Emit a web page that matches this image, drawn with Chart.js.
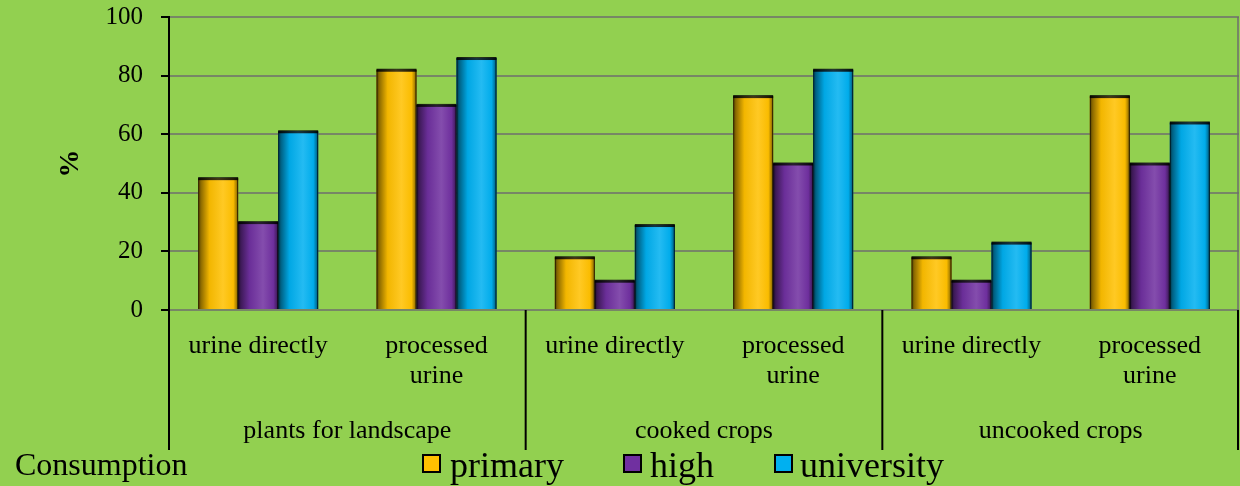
<!DOCTYPE html>
<html>
<head>
<meta charset="utf-8">
<script src="https://cdn.jsdelivr.net/npm/chart.js@4/dist/chart.umd.min.js"></script>
<style>
  html, body { margin: 0; padding: 0; background: #92D050; }
  #wrap { position: relative; width: 1240px; height: 486px; overflow: hidden;
          font-family: "Liberation Serif", "Times New Roman", serif; color: #000; }
  #wrap canvas { position: absolute; left: 0; top: 0; }
  .txt { position: absolute; white-space: nowrap; line-height: 1; }
  .swatch { position: absolute; width: 15px; height: 15px; border: 2px solid #000; }
</style>
</head>
<body>
<div id="wrap">
  <canvas id="chart" width="1240" height="486"></canvas>
  <div id="legend"></div>
</div>
<script>
// Categories (lower level) and their parent groups
const categories = [
  ['urine directly'], ['processed', 'urine'],
  ['urine directly'], ['processed', 'urine'],
  ['urine directly'], ['processed', 'urine']
];
const groups = ['plants for landscape', 'cooked crops', 'uncooked crops'];

// Education level series (percent)
const seriesNames = ['primary', 'high', 'university'];
const seriesColors = ['#FFC000', '#7030A0', '#00B0F0'];
const primary    = [45, 82, 18, 73, 18, 73];
const high       = [30, 70, 10, 50, 10, 50];
const university = [61, 86, 29, 82, 23, 64];

const legendTitle = 'Consumption';
const yAxisTitle = '%';
const yMin = 0, yMax = 100, yStep = 20;

const FONT = '"Liberation Serif", "Times New Roman", serif';
const GRID = 'rgba(110,110,110,0.75)';

function hexToRgb(h) {
  const n = parseInt(h.slice(1), 16);
  return [(n >> 16) & 255, (n >> 8) & 255, n & 255];
}
function mix(rgb, target, t) {
  const c = rgb.map(v => Math.round(v + (target - v) * t));
  return `rgb(${c[0]},${c[1]},${c[2]})`;
}

// Cylinder-like shading painted over each bar
const cylinderShade = {
  id: 'cylinderShade',
  afterDatasetsDraw(chart) {
    const ctx = chart.ctx;
    chart.data.datasets.forEach((ds, di) => {
      const meta = chart.getDatasetMeta(di);
      const rgb = hexToRgb(ds.backgroundColor);
      meta.data.forEach(bar => {
        const { x, y, base, width } = bar.getProps(['x', 'y', 'base', 'width'], true);
        const l = x - width / 2;
        const h = base - y;
        const g = ctx.createLinearGradient(l, 0, l + width, 0);
        g.addColorStop(0.00, mix(rgb, 0, 0.70));
        g.addColorStop(0.07, mix(rgb, 0, 0.45));
        g.addColorStop(0.28, mix(rgb, 0, 0.05));
        g.addColorStop(0.62, mix(rgb, 255, 0.14));
        g.addColorStop(0.88, mix(rgb, 0, 0.02));
        g.addColorStop(0.96, mix(rgb, 0, 0.35));
        g.addColorStop(1.00, mix(rgb, 0, 0.75));
        ctx.save();
        ctx.fillStyle = g;
        ctx.fillRect(l, y, width, h);
        // dark rim along the top
        const tg = ctx.createLinearGradient(l, 0, l + width, 0);
        tg.addColorStop(0, 'rgba(0,0,0,0.9)');
        tg.addColorStop(0.5, 'rgba(20,20,20,0.8)');
        tg.addColorStop(1, 'rgba(0,0,0,0.9)');
        ctx.fillStyle = tg;
        ctx.fillRect(l, y - 1, width, 3);
        // thin outline on the sides
        ctx.strokeStyle = 'rgba(0,0,0,0.55)';
        ctx.lineWidth = 1;
        ctx.beginPath();
        ctx.moveTo(l + 0.5, y); ctx.lineTo(l + 0.5, base);
        ctx.moveTo(l + width - 0.5, y); ctx.lineTo(l + width - 0.5, base);
        ctx.stroke();
        ctx.restore();
      });
    });
  }
};

// Group separators under the category axis, plus the plot's right border
const axisFrame = {
  id: 'axisFrame',
  afterDraw(chart) {
    const { ctx, chartArea: a, scales: { x, x2 } } = chart;
    const perGroup = categories.length / groups.length;
    ctx.save();
    ctx.strokeStyle = GRID;
    ctx.lineWidth = 2;
    ctx.beginPath();
    ctx.moveTo(a.right - 1, a.top);
    ctx.lineTo(a.right - 1, a.bottom);
    ctx.stroke();
    ctx.strokeStyle = '#000';
    ctx.lineWidth = 2;
    for (let g = 0; g <= groups.length; g++) {
      let px = x.getPixelForValue(g * perGroup - 0.5);
      px = Math.min(Math.max(px, a.left), a.right - 1);
      ctx.beginPath();
      ctx.moveTo(px, a.bottom);
      ctx.lineTo(px, x2.bottom);
      ctx.stroke();
    }
    ctx.restore();
  }
};

const seriesData = [primary, high, university];

new Chart(document.getElementById('chart'), {
  type: 'bar',
  data: {
    labels: categories,
    datasets: seriesNames.map((name, i) => ({
      label: name,
      data: seriesData[i],
      backgroundColor: seriesColors[i],
      borderWidth: 0,
      barPercentage: 1.0,
      categoryPercentage: 0.673
    }))
  },
  options: {
    responsive: false,
    animation: false,
    layout: { padding: { top: 17, right: 1, bottom: 36, left: 0 } },
    plugins: { legend: { display: false }, tooltip: { enabled: false } },
    scales: {
      y: {
        min: yMin, max: yMax,
        ticks: { stepSize: yStep, color: '#000', padding: 18,
                 font: { family: FONT, size: 25 } },
        grid: { color: GRID, lineWidth: 2, tickColor: '#000', tickLength: 8 },
        border: { display: true, color: '#000', width: 2 },
        title: { display: true, text: yAxisTitle, color: '#000',
                 font: { family: FONT, size: 28, weight: 'bold' },
                 padding: { top: 54, bottom: 0 } },
        afterFit(s) { s.width = 169; s.paddingTop = 0; s.paddingBottom = 0; }
      },
      x: {
        position: 'bottom',
        weight: 0,
        ticks: { color: '#000', padding: 21, maxRotation: 0, autoSkip: false,
                 font: { family: FONT, size: 26, lineHeight: 30 / 26 } },
        grid: { display: false, drawTicks: false },
        border: { display: false },
        afterFit(s) { s.height = 96; }
      },
      x2: {
        type: 'category',
        position: 'bottom',
        weight: 1,
        labels: groups,
        offset: true,
        ticks: { color: '#000', padding: 10, maxRotation: 0, autoSkip: false,
                 font: { family: FONT, size: 26 } },
        grid: { display: false, drawTicks: false },
        border: { display: false },
        afterFit(s) { s.height = 44; }
      }
    }
  },
  plugins: [cylinderShade, axisFrame]
});

// Legend row beneath the chart
(function buildLegend() {
  const host = document.getElementById('legend');
  const title = document.createElement('div');
  title.className = 'txt';
  title.style.cssText = 'left:15px;top:448px;font-size:32px;';
  title.textContent = legendTitle;
  host.appendChild(title);
  const swatchLeft = [422, 623, 774];
  const textLeft = [450, 650, 800];
  seriesNames.forEach((name, i) => {
    const sw = document.createElement('div');
    sw.className = 'swatch';
    sw.style.left = swatchLeft[i] + 'px';
    sw.style.top = '454px';
    sw.style.background = seriesColors[i];
    host.appendChild(sw);
    const t = document.createElement('div');
    t.className = 'txt';
    t.style.cssText = `left:${textLeft[i]}px;top:447px;font-size:36px;`;
    t.textContent = name;
    host.appendChild(t);
  });
})();
</script>
</body>
</html>
